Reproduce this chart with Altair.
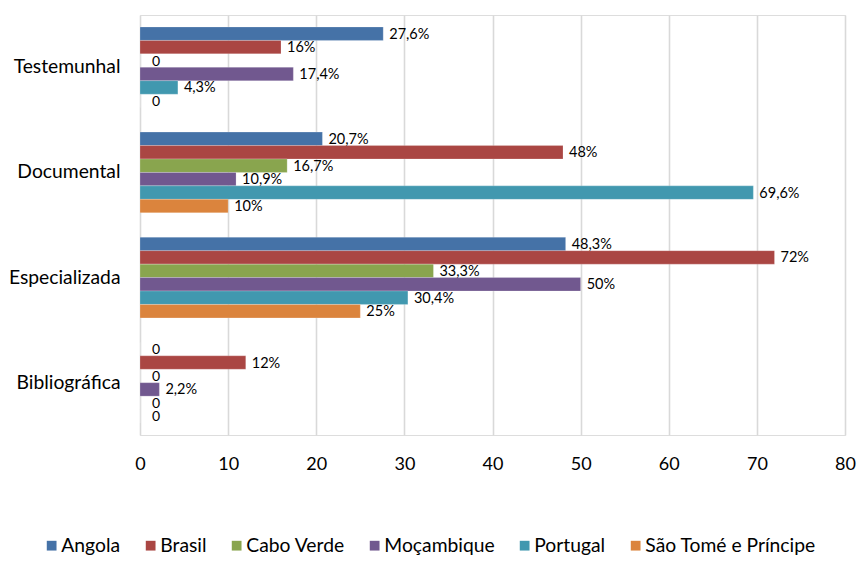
import altair as alt
import pandas as pd

categories = ["Testemunhal", "Documental", "Especializada", "Bibliográfica"]
series = ["Angola", "Brasil", "Cabo Verde", "Moçambique", "Portugal", "São Tomé e Príncipe"]
colors = ["#4572A7", "#AA4643", "#89A54E", "#71588F", "#4198AF", "#DB843D"]

angola = [27.6, 20.7, 48.3, 0]
brasil = [16, 48, 72, 12]
cabo_verde = [0, 16.7, 33.3, 0]
mocambique = [17.4, 10.9, 50, 2.2]
portugal = [4.3, 69.6, 30.4, 0]
sao_tome = [0, 10, 25, 0]

values = [angola, brasil, cabo_verde, mocambique, portugal, sao_tome]


def fmt(v):
    if v == 0:
        return "0"
    s = ("%g" % v).replace(".", ",")
    return s + "%"


rows = []
for s, vals in zip(series, values):
    for c, v in zip(categories, vals):
        rows.append({"cat": c, "serie": s, "val": v, "label": fmt(v)})
df = pd.DataFrame(rows)

FONT = "Lato"

base = alt.Chart(df).encode(
    y=alt.Y("cat:N", sort=categories, title=None,
            scale=alt.Scale(paddingInner=0.233, paddingOuter=0.114),
            axis=alt.Axis(ticks=False, domain=False, labelPadding=20,
                          labelFontSize=19.3, labelColor="#000000", labelFont=FONT)),
    yOffset=alt.YOffset("serie:N", sort=series, scale=alt.Scale(paddingInner=0, paddingOuter=0)),
)

bars = base.mark_bar(stroke="#ffffff", strokeOpacity=0.35, strokeWidth=0.6).encode(
    x=alt.X("val:Q", title=None,
            scale=alt.Scale(domain=[0, 80]),
            axis=alt.Axis(values=list(range(0, 81, 10)), ticks=False, domain=False,
                          labelFlush=False,
                          labelPadding=20, labelFontSize=18, labelColor="#000000",
                          labelFont=FONT, gridColor="#D9D9D9", gridWidth=1.6)),
    color=alt.Color("serie:N", sort=series, title=None,
                    scale=alt.Scale(domain=series, range=colors),
                    legend=alt.Legend(orient="none", direction="horizontal",
                                      legendX=-98, legendY=521,
                                      symbolType="square", symbolSize=95,
                                      symbolStrokeWidth=0, labelFontSize=19.3,
                                      labelFont=FONT, labelColor="#000000",
                                      labelOffset=0,
                                      columnPadding=20, labelLimit=300)),
)

nonzero = base.transform_filter("datum.val > 0").mark_text(
    align="left", baseline="middle", dx=6, dy=1, fontSize=14.5,
    font=FONT, color="#000000").encode(
    x="val:Q",
    text="label:N",
)

zeros = base.transform_filter("datum.val == 0").mark_text(
    align="left", baseline="middle", dx=12, dy=1, fontSize=14,
    font=FONT, color="#000000").encode(
    x="val:Q",
    text="label:N",
)

chart = alt.layer(bars, nonzero, zeros).properties(
    width=705, height=420,
    autosize=alt.AutoSizeParams(type="none"),
    padding={"left": 132, "top": 7, "right": 12, "bottom": 120},
).configure_view(stroke=None).configure(background="#ffffff")

chart.save("out.html", embed_options={"renderer": "svg", "actions": False})
